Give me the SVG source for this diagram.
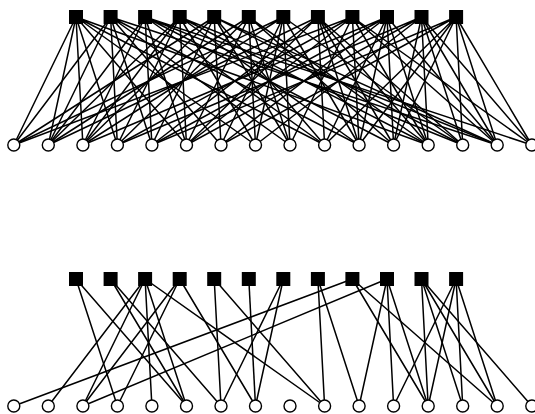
<svg xmlns="http://www.w3.org/2000/svg" width="535" height="414" viewBox="0 0 535 414">
<style>
.e{stroke:#000;stroke-width:1.5;fill:none}
.s{fill:#000}
.c{fill:#fff;stroke:#000;stroke-width:1.4}
</style>
<rect width="535" height="414" fill="#fff"/>
<g id="edges-top" class="e">
<path d="M76,17L13.8,145M76,17L48.3,145M76,17L82.9,145M76,17L117.4,145M76,17L186.5,145M76,17L255.5,145M76,17L324.6,145M76,17L428.2,145"/>
<path d="M110.6,17L13.8,145M110.6,17L48.3,145M110.6,17L117.4,145M110.6,17L151.9,145M110.6,17L221,145M110.6,17L290,145M110.6,17L359.1,145M110.6,17L497.2,145"/>
<path d="M145.1,17L48.3,145M145.1,17L82.9,145M145.1,17L151.9,145M145.1,17L186.5,145M145.1,17L324.6,145M145.1,17L393.6,145M145.1,17L462.7,145M145.1,17L531.8,145"/>
<path d="M179.7,17L48.3,145M179.7,17L82.9,145M179.7,17L117.4,145M179.7,17L186.5,145M179.7,17L255.5,145M179.7,17L359.1,145M179.7,17L428.2,145M179.7,17L497.2,145"/>
<path d="M214.2,17L13.8,145M214.2,17L82.9,145M214.2,17L151.9,145M214.2,17L221,145M214.2,17L290,145M214.2,17L324.6,145M214.2,17L462.7,145M214.2,17L497.2,145"/>
<path d="M248.8,17L48.3,145M248.8,17L117.4,145M248.8,17L186.5,145M248.8,17L255.5,145M248.8,17L290,145M248.8,17L393.6,145M248.8,17L428.2,145"/>
<path d="M283.3,17L13.8,145M283.3,17L82.9,145M283.3,17L221,145M283.3,17L255.5,145M283.3,17L290,145M283.3,17L359.1,145M283.3,17L462.7,145"/>
<path d="M317.9,17L48.3,145M317.9,17L151.9,145M317.9,17L186.5,145M317.9,17L324.6,145M317.9,17L359.1,145M317.9,17L393.6,145M317.9,17L428.2,145M317.9,17L462.7,145"/>
<path d="M352.4,17L13.8,145M352.4,17L117.4,145M352.4,17L186.5,145M352.4,17L290,145M352.4,17L359.1,145M352.4,17L428.2,145M352.4,17L497.2,145M352.4,17L531.8,145"/>
<path d="M387,17L82.9,145M387,17L151.9,145M387,17L221,145M387,17L324.6,145M387,17L359.1,145M387,17L393.6,145M387,17L428.2,145M387,17L497.2,145"/>
<path d="M421.5,17L117.4,145M421.5,17L186.5,145M421.5,17L255.5,145M421.5,17L393.6,145M421.5,17L428.2,145M421.5,17L462.7,145M421.5,17L497.2,145M421.5,17L531.8,145"/>
<path d="M456.1,17L151.9,145M456.1,17L221,145M456.1,17L324.6,145M456.1,17L359.1,145M456.1,17L393.6,145M456.1,17L462.7,145M456.1,17L497.2,145M456.1,17L531.8,145"/>
</g>
<g id="edges-bottom" class="e">
<path d="M76,279L117.4,406M76,279L186.5,406"/>
<path d="M110.6,279L186.5,406M110.6,279L221,406"/>
<path d="M145.1,279L48.3,406M145.1,279L82.9,406M145.1,279L151.9,406M145.1,279L186.5,406M145.1,279L324.6,406"/>
<path d="M179.7,279L82.9,406M179.7,279L117.4,406M179.7,279L255.5,406"/>
<path d="M214.2,279L221,406M214.2,279L324.6,406"/>
<path d="M248.8,279L255.5,406"/>
<path d="M283.3,279L221,406M283.3,279L255.5,406"/>
<path d="M317.9,279L324.6,406M317.9,279L359.1,406"/>
<path d="M352.4,279L13.8,406M352.4,279L428.2,406M352.4,279L497.2,406"/>
<path d="M387,279L82.9,406M387,279L359.1,406M387,279L393.6,406M387,279L428.2,406"/>
<path d="M421.5,279L428.2,406M421.5,279L462.7,406M421.5,279L497.2,406M421.5,279L531.8,406"/>
<path d="M456.1,279L393.6,406M456.1,279L428.2,406M456.1,279L462.7,406M456.1,279L497.2,406"/>
</g>
<g id="checks-top">
<rect id="t-s0" class="s" x="69" y="10" width="14" height="14"/>
<rect id="t-s1" class="s" x="103.6" y="10" width="14" height="14"/>
<rect id="t-s2" class="s" x="138.1" y="10" width="14" height="14"/>
<rect id="t-s3" class="s" x="172.7" y="10" width="14" height="14"/>
<rect id="t-s4" class="s" x="207.2" y="10" width="14" height="14"/>
<rect id="t-s5" class="s" x="241.8" y="10" width="14" height="14"/>
<rect id="t-s6" class="s" x="276.3" y="10" width="14" height="14"/>
<rect id="t-s7" class="s" x="310.9" y="10" width="14" height="14"/>
<rect id="t-s8" class="s" x="345.4" y="10" width="14" height="14"/>
<rect id="t-s9" class="s" x="380" y="10" width="14" height="14"/>
<rect id="t-s10" class="s" x="414.5" y="10" width="14" height="14"/>
<rect id="t-s11" class="s" x="449.1" y="10" width="14" height="14"/>
</g>
<g id="vars-top">
<circle id="t-c0" class="c" cx="13.8" cy="145" r="6"/>
<circle id="t-c1" class="c" cx="48.3" cy="145" r="6"/>
<circle id="t-c2" class="c" cx="82.9" cy="145" r="6"/>
<circle id="t-c3" class="c" cx="117.4" cy="145" r="6"/>
<circle id="t-c4" class="c" cx="151.9" cy="145" r="6"/>
<circle id="t-c5" class="c" cx="186.5" cy="145" r="6"/>
<circle id="t-c6" class="c" cx="221" cy="145" r="6"/>
<circle id="t-c7" class="c" cx="255.5" cy="145" r="6"/>
<circle id="t-c8" class="c" cx="290" cy="145" r="6"/>
<circle id="t-c9" class="c" cx="324.6" cy="145" r="6"/>
<circle id="t-c10" class="c" cx="359.1" cy="145" r="6"/>
<circle id="t-c11" class="c" cx="393.6" cy="145" r="6"/>
<circle id="t-c12" class="c" cx="428.2" cy="145" r="6"/>
<circle id="t-c13" class="c" cx="462.7" cy="145" r="6"/>
<circle id="t-c14" class="c" cx="497.2" cy="145" r="6"/>
<circle id="t-c15" class="c" cx="531.8" cy="145" r="6"/>
</g>
<g id="checks-bottom">
<rect id="b-s0" class="s" x="69" y="272" width="14" height="14"/>
<rect id="b-s1" class="s" x="103.6" y="272" width="14" height="14"/>
<rect id="b-s2" class="s" x="138.1" y="272" width="14" height="14"/>
<rect id="b-s3" class="s" x="172.7" y="272" width="14" height="14"/>
<rect id="b-s4" class="s" x="207.2" y="272" width="14" height="14"/>
<rect id="b-s5" class="s" x="241.8" y="272" width="14" height="14"/>
<rect id="b-s6" class="s" x="276.3" y="272" width="14" height="14"/>
<rect id="b-s7" class="s" x="310.9" y="272" width="14" height="14"/>
<rect id="b-s8" class="s" x="345.4" y="272" width="14" height="14"/>
<rect id="b-s9" class="s" x="380" y="272" width="14" height="14"/>
<rect id="b-s10" class="s" x="414.5" y="272" width="14" height="14"/>
<rect id="b-s11" class="s" x="449.1" y="272" width="14" height="14"/>
</g>
<g id="vars-bottom">
<circle id="b-c0" class="c" cx="13.8" cy="406" r="6"/>
<circle id="b-c1" class="c" cx="48.3" cy="406" r="6"/>
<circle id="b-c2" class="c" cx="82.9" cy="406" r="6"/>
<circle id="b-c3" class="c" cx="117.4" cy="406" r="6"/>
<circle id="b-c4" class="c" cx="151.9" cy="406" r="6"/>
<circle id="b-c5" class="c" cx="186.5" cy="406" r="6"/>
<circle id="b-c6" class="c" cx="221" cy="406" r="6"/>
<circle id="b-c7" class="c" cx="255.5" cy="406" r="6"/>
<circle id="b-c8" class="c" cx="290" cy="406" r="6"/>
<circle id="b-c9" class="c" cx="324.6" cy="406" r="6"/>
<circle id="b-c10" class="c" cx="359.1" cy="406" r="6"/>
<circle id="b-c11" class="c" cx="393.6" cy="406" r="6"/>
<circle id="b-c12" class="c" cx="428.2" cy="406" r="6"/>
<circle id="b-c13" class="c" cx="462.7" cy="406" r="6"/>
<circle id="b-c14" class="c" cx="497.2" cy="406" r="6"/>
<circle id="b-c15" class="c" cx="531.8" cy="406" r="6"/>
</g>
</svg>
